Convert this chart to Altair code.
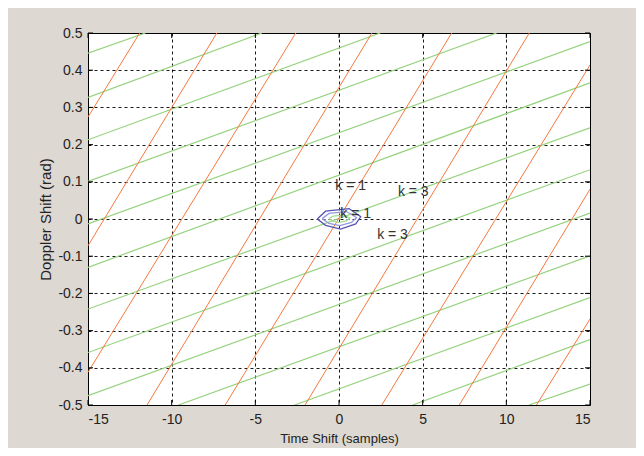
import altair as alt
import pandas as pd

# ---- data ----
# orange line segments: visible end points on the plot border
orange_x1 = [-15, -15, -15, -11.47, -6.80, -2.03, 2.56, 7.19, 11.80]
orange_y1 = [0.274, -0.072, -0.412, -0.5, -0.5, -0.5, -0.5, -0.5, -0.5]
orange_x2 = [-11.91, -7.30, -2.585, 1.965, 6.735, 11.37, 15, 15, 15]
orange_y2 = [0.5, 0.5, 0.5, 0.5, 0.5, 0.5, 0.414, 0.080, -0.269]

# green line segments
green_x1 = [-15, -15, -15, -15, -15, -15, -15, -15, -15, -9.59, -2.65, 4.40, 11.35]
green_y1 = [0.446, 0.327, 0.213, 0.101, -0.013, -0.130, -0.242, -0.359, -0.475,
            -0.5, -0.5, -0.5, -0.5]
green_x2 = [-11.57, -4.61, 2.46, 9.42, 15, 15, 15, 15, 15, 15, 15, 15, 15]
green_y2 = [0.5, 0.5, 0.5, 0.5, 0.477, 0.366, 0.245, 0.1325, 0.016,
            -0.099, -0.211, -0.324, -0.444]

# small contour around the origin (three levels)
contour_outer_x = [-1.30, -0.80, 0.60, 1.30, 1.00, 0.10, -0.80, -1.30]
contour_outer_y = [0.000, 0.021, 0.028, 0.006, -0.013, -0.027, -0.017, 0.000]
contour_mid_x = [-1.00, -0.60, 0.45, 1.05, 0.75, 0.05, -0.60, -1.00]
contour_mid_y = [0.001, 0.015, 0.020, 0.004, -0.009, -0.018, -0.012, 0.001]
contour_inner_x = [-0.60, -0.35, 0.28, 0.65, 0.45, 0.00, -0.35, -0.60]
contour_inner_y = [0.001, 0.008, 0.011, 0.003, -0.005, -0.009, -0.006, 0.001]

# annotations
label_text = ["k = 1", "k = 3", "k = 1", "k = 3"]
label_x = [-0.22, 3.52, 0.08, 2.28]
label_y = [0.090, 0.072, 0.013, -0.043]

# axes
x_ticks = [-15, -10, -5, 0, 5, 10, 15]
y_ticks = [-0.5, -0.4, -0.3, -0.2, -0.1, 0, 0.1, 0.2, 0.3, 0.4, 0.5]
x_title = "Time Shift (samples)"
y_title = "Doppler Shift (rad)"

# ---- build chart ----
W, H = 502, 372
FONT = "Liberation Sans"

xs = alt.Scale(domain=[-15, 15], nice=False, zero=False)
ys = alt.Scale(domain=[-0.5, 0.5], nice=False, zero=False)

x_axis = alt.Axis(values=x_ticks, title=x_title, labelExpr="'' + datum.value",
                  titleX=W / 2, titleY=33, titleBaseline="middle", labelPadding=7,
                  titleFontSize=13, grid=True)
y_axis = alt.Axis(values=y_ticks, title=y_title, labelExpr="'' + datum.value",
                  titleX=-43, titleY=H / 2, titleBaseline="middle", titleAngle=-90,
                  titleFontSize=15, labelPadding=6, grid=True)


def X(f):
    return alt.X(f, scale=xs, axis=x_axis)


def Y(f):
    return alt.Y(f, scale=ys, axis=y_axis)


orange_df = pd.DataFrame({"x": orange_x1, "y": orange_y1, "x2": orange_x2, "y2": orange_y2})
green_df = pd.DataFrame({"x": green_x1, "y": green_y1, "x2": green_x2, "y2": green_y2})

rows = []
for name, cx, cy in [("outer", contour_outer_x, contour_outer_y),
                     ("mid", contour_mid_x, contour_mid_y),
                     ("inner", contour_inner_x, contour_inner_y)]:
    for i, (a, b) in enumerate(zip(cx, cy)):
        rows.append({"level": name, "i": i, "x": a, "y": b})
contour_df = pd.DataFrame(rows)

text_df = pd.DataFrame({"x": label_x, "y": label_y, "t": label_text})
xt_df = pd.DataFrame({"x": x_ticks})
yt_df = pd.DataFrame({"y": y_ticks})

green = alt.Chart(green_df).mark_rule(color="#96d27e", strokeWidth=1.2, clip=True).encode(
    x=X("x:Q"), y=Y("y:Q"), x2="x2:Q", y2="y2:Q")

orange = alt.Chart(orange_df).mark_rule(color="#f7783c", strokeWidth=1, clip=True).encode(
    x=X("x:Q"), y=Y("y:Q"), x2="x2:Q", y2="y2:Q")

contour = alt.Chart(contour_df).mark_line(strokeWidth=1.3, clip=True).encode(
    x=X("x:Q"), y=Y("y:Q"),
    order="i:Q",
    detail="level:N",
    color=alt.Color("level:N", scale=alt.Scale(domain=["outer", "mid", "inner"],
                                               range=["#5656b0", "#9898dc", "#a6dc94"]),
                    legend=None))

texts = alt.Chart(text_df).mark_text(align="left", baseline="middle", font=FONT,
                                     fontSize=14, color="#333333").encode(
    x=X("x:Q"), y=Y("y:Q"), text="t:N")

xt_bottom = alt.Chart(xt_df).mark_rule(color="black", strokeWidth=1).encode(
    x=X("x:Q"), y=alt.value(H), y2=alt.value(H - 5))
xt_top = alt.Chart(xt_df).mark_rule(color="black", strokeWidth=1).encode(
    x=X("x:Q"), y=alt.value(0), y2=alt.value(5))
yt_left = alt.Chart(yt_df).mark_rule(color="black", strokeWidth=1).encode(
    y=Y("y:Q"), x=alt.value(0), x2=alt.value(5))
yt_right = alt.Chart(yt_df).mark_rule(color="black", strokeWidth=1).encode(
    y=Y("y:Q"), x=alt.value(W), x2=alt.value(W - 5))

chart = alt.layer(green, orange, contour, texts, xt_bottom, xt_top, yt_left, yt_right).properties(
    width=W, height=H,
    padding={"left": 80, "top": 25, "right": 46, "bottom": 43},
    autosize=alt.AutoSizeParams(type="none"),
    background="#ddd8d2",
).configure_view(
    stroke="black", strokeWidth=1, fill="white"
).configure_axis(
    domain=False, ticks=False, tickSize=0,
    grid=True, gridColor="black", gridDash=[3, 3], gridOpacity=0.9, gridWidth=1,
    labelFont=FONT, labelFontSize=14, labelColor="#222222",
    titleFont=FONT, titleFontWeight="normal", titleColor="#222222",
)

chart.save("out.html", embed_options={"renderer": "svg", "actions": False})
